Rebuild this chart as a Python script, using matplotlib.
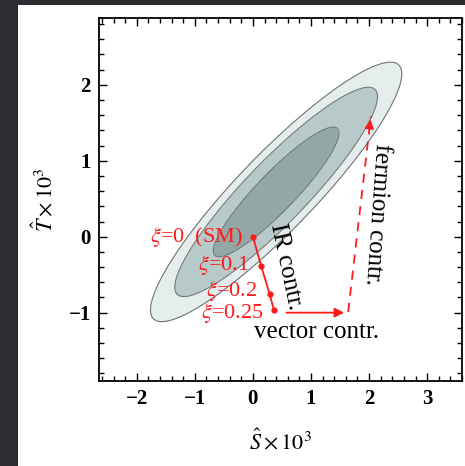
import numpy as np
import matplotlib
matplotlib.use("Agg")
import matplotlib.pyplot as plt
from matplotlib.patches import Rectangle
from matplotlib.ticker import MultipleLocator

# fit ellipse: gaussian centre, widths, correlation and chi2 levels (68/95/99%)
fit_center = [0.40, 0.59]
fit_sigma = [0.713, 0.563]
fit_rho = 0.91
chi2_levels = [0.0, 2.30, 5.99, 9.21]
fill_colors = ["#91a8a6", "#b7c9c8", "#e4ecec"]

# xi trajectory (S, T) and labels
xi_labels = [r"$\xi$=0  (SM)", r"$\xi$=0.1", r"$\xi$=0.2", r"$\xi$=0.25"]
xi_S = [0.0, 0.14, 0.29, 0.36]
xi_T = [0.0, -0.38, -0.76, -0.96]
label_S = [-0.17, -0.07, 0.08, 0.19]
label_T = [0.0, -0.37, -0.71, -1.0]

vector_start = (0.53, -1.0)
vector_end = (1.62, -1.0)
fermion_start = (1.64, -0.99)
fermion_end = (2.03, 1.58)

SERIF = ["Liberation Serif", "DejaVu Serif"]
plt.rcParams["mathtext.fontset"] = "stix"
plt.rcParams["font.family"] = SERIF

fig = plt.figure(figsize=(4.65, 4.66), dpi=100)
fig.patch.set_facecolor("#2c2b30")
fig.add_artist(Rectangle((18 / 465, 0), 1, 1 - 5 / 466, transform=fig.transFigure,
                         facecolor="white", edgecolor="none", zorder=0))
ax = fig.add_axes([99 / 465, 1 - 381 / 466, 363 / 465, 363 / 466])
ax.set_facecolor("white")

S = np.linspace(-3, 4, 500)
T = np.linspace(-2.5, 3.5, 500)
SS, TT = np.meshgrid(S, T)
u = (SS - fit_center[0]) / fit_sigma[0]
v = (TT - fit_center[1]) / fit_sigma[1]
chi2 = (u ** 2 - 2 * fit_rho * u * v + v ** 2) / (1 - fit_rho ** 2)
ax.contourf(SS, TT, chi2, levels=chi2_levels, colors=fill_colors)
ax.contour(SS, TT, chi2, levels=chi2_levels[1:], colors="#6f7777", linewidths=0.8)

red = "#ff1a1a"
ax.plot(xi_S, xi_T, color=red, lw=1.3, marker="o", ms=3.5)
for lab, x, y in zip(xi_labels, label_S, label_T):
    ax.text(x, y, lab, color=red, fontsize=16, ha="right", va="center")

ax.annotate("", xy=vector_end, xytext=vector_start,
            arrowprops=dict(arrowstyle="-|>", color=red, lw=1.3, mutation_scale=14))
ax.plot([fermion_start[0], fermion_end[0]], [fermion_start[1], fermion_end[1]],
        color=red, lw=1.3, ls=(0, (5, 4)))
ax.annotate("", xy=fermion_end,
            xytext=(fermion_end[0] - 0.02, fermion_end[1] - 0.12),
            arrowprops=dict(arrowstyle="-|>", color=red, lw=1.0, mutation_scale=14))

ax.text(0.57, -0.40, "IR contr.", fontsize=18, rotation=-78,
        ha="center", va="center")
ax.text(2.13, 0.29, "fermion contr.", fontsize=18, rotation=-94,
        ha="center", va="center")
ax.text(1.10, -1.25, "vector contr.", fontsize=18, ha="center", va="center")

ax.set_xlim(-2.65, 3.6)
ax.set_ylim(-1.9, 2.88)
ax.xaxis.set_major_locator(MultipleLocator(1))
ax.xaxis.set_minor_locator(MultipleLocator(0.2))
ax.yaxis.set_major_locator(MultipleLocator(1))
ax.yaxis.set_minor_locator(MultipleLocator(0.2))
ax.tick_params(which="both", direction="in", top=True, right=True, width=1.0)
ax.tick_params(which="major", length=6, labelsize=15, pad=6)
ax.tick_params(which="minor", length=3.5)
for lbl in ax.get_xticklabels() + ax.get_yticklabels():
    lbl.set_fontweight("bold")
for sp in ax.spines.values():
    sp.set_linewidth(1.3)

ax.set_xlabel(r"$\hat{S}\times 10^3$", fontsize=16, labelpad=14)
ax.set_ylabel(r"$\hat{T}\times 10^3$", fontsize=16, labelpad=8)

fig.savefig("out.png", dpi=100, facecolor=fig.get_facecolor())
